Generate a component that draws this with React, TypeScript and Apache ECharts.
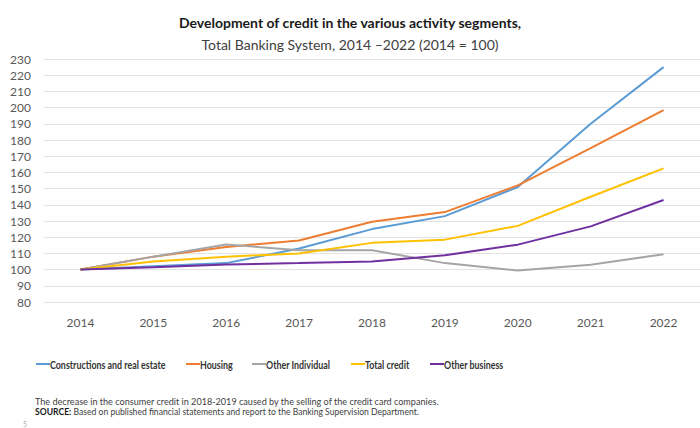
import React, { useEffect, useRef } from "react";
import * as echarts from "echarts";

const years = ["2014", "2015", "2016", "2017", "2018", "2019", "2020", "2021", "2022"];
const constructions = [100, 102, 104, 113, 125, 133, 151, 190, 225];
const housing = [100, 108, 114, 118, 129.5, 135.5, 152, 175, 198.5];
const otherIndividual = [100, 108, 115.5, 112, 112, 104, 99.5, 103, 109.5];
const totalCredit = [100, 105, 108, 110, 116.5, 118.5, 127, 145, 162.5];
const otherBusiness = [100, 101.5, 103.2, 104, 105, 108.8, 115.4, 126.7, 143];

const seriesNames = ["Constructions and real estate", "Housing", "Other Individual", "Total credit", "Other business"];
const seriesData = [constructions, housing, otherIndividual, totalCredit, otherBusiness];
const colors = ["#5B9BD5", "#ED7D31", "#A5A5A5", "#FFC000", "#7030A0"];
const legendTextX = [50, 200, 266, 365, 444];

const FONT = "Lato";

export default function App() {
  const ref = useRef<HTMLDivElement>(null);
  useEffect(() => {
    if (!ref.current) return;
    const chart = echarts.init(ref.current, undefined, { renderer: "svg" });

    const legendGraphics: any[] = [];
    seriesNames.forEach((n, i) => {
      const tx = legendTextX[i];
      legendGraphics.push({
        type: "line",
        shape: { x1: tx - 14, y1: 364, x2: tx, y2: 364 },
        style: { stroke: colors[i], lineWidth: 2 },
      });
      legendGraphics.push({
        type: "text",
        x: tx,
        y: 364,
        scaleX: 0.74,
        style: {
          text: n,
          fontSize: 12,
          fontWeight: "bold",
          fontFamily: FONT,
          fill: "#333333",
          verticalAlign: "middle",
          align: "left",
        },
      });
    });

    chart.setOption({
      animation: false,
      backgroundColor: "#ffffff",
      textStyle: { fontFamily: FONT },
      title: [
        {
          text: "Development of credit in the various activity segments,",
          left: "center",
          top: 10,
          textStyle: { fontFamily: FONT, fontSize: 14, fontWeight: "bold", color: "#1a1a1a" },
        },
        {
          text: "Total Banking System, 2014 \u20132022 (2014 = 100)",
          left: "center",
          top: 32,
          textStyle: { fontFamily: FONT, fontSize: 14, fontWeight: "normal", color: "#404040" },
        },
      ],
      grid: { left: 44, right: -5, top: 59, bottom: 126, containLabel: false },
      xAxis: {
        type: "category",
        data: years,
        boundaryGap: true,
        axisLine: { show: false },
        axisTick: { show: false },
        axisLabel: { color: "#595959", fontSize: 12, margin: 14, fontFamily: FONT },
      },
      yAxis: {
        type: "value",
        min: 80,
        max: 230,
        interval: 10,
        axisLine: { show: false },
        axisTick: { show: false },
        axisLabel: { color: "#595959", fontSize: 12, margin: 13, fontFamily: FONT },
        splitLine: { lineStyle: { color: "#E3E3E3", width: 1 } },
      },
      series: seriesNames.map((n, i) => ({
        name: n,
        type: "line",
        data: seriesData[i],
        symbol: "none",
        color: colors[i],
        lineStyle: { width: 2, color: colors[i] },
      })),
      graphic: [
        ...legendGraphics,
        {
          type: "text",
          x: 35,
          y: 401,
          scaleX: 0.91,
          style: {
            text: "The decrease in the consumer credit in 2018-2019 caused by the selling of the credit card companies.",
            fontSize: 10,
            fontFamily: FONT,
            fill: "#404040",
            verticalAlign: "middle",
          },
        },
        {
          type: "text",
          x: 35,
          y: 411,
          scaleX: 0.86,
          style: {
            text: "{b|SOURCE:} Based on published financial statements and report to the Banking Supervision Department.",
            fontSize: 10,
            fontFamily: FONT,
            fill: "#404040",
            verticalAlign: "middle",
            rich: {
              b: { fontWeight: "bold", fontSize: 10, fontFamily: FONT, fill: "#1a1a1a" },
            },
          },
        },
        {
          type: "text",
          x: 23,
          y: 424,
          style: { text: "5", fontSize: 7, fontFamily: FONT, fill: "#b0b0b0", verticalAlign: "middle" },
        },
      ],
    });
    return () => chart.dispose();
  }, []);
  return (
    <div
      ref={ref}
      style={{ position: "fixed", left: 0, top: 0, width: 700, height: 428, background: "#fff" }}
    />
  );
}
